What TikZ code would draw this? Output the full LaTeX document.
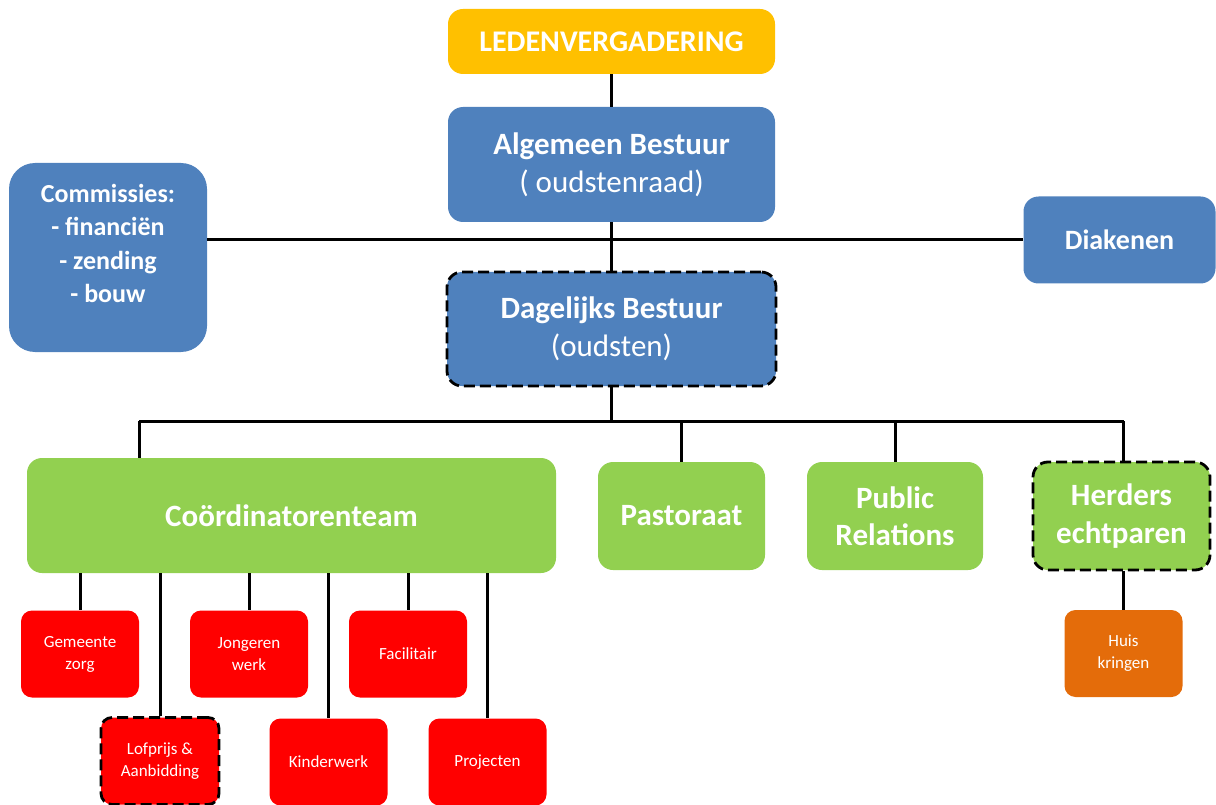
\documentclass[tikz,border=0pt]{standalone}
\usepackage{fontspec}
\setmainfont{Carlito}
\definecolor{ledyellow}{HTML}{FFC000}
\definecolor{bestblue}{HTML}{4F81BD}
\definecolor{teamgreen}{HTML}{92D050}
\definecolor{workred}{HTML}{FF0000}
\definecolor{huisorange}{HTML}{E46C0A}
\newcommand\myfs[2]{\fontsize{#1}{#2}\selectfont}
\begin{document}
\begin{tikzpicture}[x=1pt,y=-1pt,
  base/.style={rectangle, rounded corners=15pt, inner sep=0pt, align=center, text=white},
  sz/.style args={#1 and #2}{minimum width=#1, minimum height=#2},
  yel/.style={base, fill=ledyellow, font=\bfseries\myfs{30}{38}},
  blu/.style={base, fill=bestblue, font=\myfs{31}{38}},
  grn/.style={base, fill=teamgreen, font=\bfseries\myfs{31}{37.5}},
  redb/.style={base, fill=workred, rounded corners=11pt, sz=118pt and 87pt, font=\myfs{17}{22}},
  orb/.style={redb, fill=huisorange},
  dashbox/.style={draw=black, line width=2.8pt, dash pattern=on 11pt off 5pt},
  conn/.style={line width=3pt, draw=black}
]
\useasboundingbox (0,0) rectangle (1216,805);

% top levels
\node[yel, sz=327pt and 65pt] (led) at (611.5,41.5) {LEDENVERGADERING};
\node[blu, sz=327pt and 115pt] (alg) at (611.5,164.5) {\textbf{Algemeen Bestuur}\\( oudstenraad)};
\node[blu, rounded corners=26pt, sz=198pt and 189pt, font=\bfseries\myfs{26}{33.5},
      label={[text=white, align=center, font=\bfseries\myfs{26}{33.5}, yshift=14pt]center:{Commissies:\\- financiën\\- zending\\- bouw}}] (com) at (108,257.5) {};
\node[blu, sz=192pt and 87pt, font=\bfseries\myfs{28}{34}] (dia) at (1119.5,240) {Diakenen};
\node[blu, dashbox, sz=329pt and 114pt] (dag) at (611.5,329) {\textbf{Dagelijks Bestuur}\\(oudsten)};

% second level
\node[grn, sz=529pt and 115pt] (coo) at (291.5,515.5) {Coördinatorenteam};
\node[grn, sz=167pt and 108pt] (pas) at (681.5,516) {Pastoraat};
\node[grn, sz=176pt and 108pt] (pr) at (895,516) {Public\\Relations};
\node[grn, dashbox, sz=177pt and 108pt] (her) at (1121.5,516) {Herders\\echtparen};
\node[orb] (huis) at (1123.5,653.5) {Huis\\kringen};

% work groups
\node[redb] (gem) at (80,654) {Gemeente\\zorg};
\node[redb] (jon) at (249,654) {Jongeren\\werk};
\node[redb] (fac) at (408,654) {Facilitair};
\node[redb, dashbox] (lof) at (160,761) {Lofprijs \&\\Aanbidding};
\node[redb] (kin) at (328.5,762) {Kinderwerk};
\node[redb] (pro) at (487.5,762) {Projecten};

% connectors
\draw[conn] (led) -- (alg);
\draw[conn] (alg) -- (dag);
\draw[conn] (com.east |- dia.west) -- (dia.west);

\coordinate (bm) at (611.5,421);
\coordinate (b1) at (139,421);
\coordinate (b2) at (681.5,421);
\coordinate (b3) at (895,421);
\coordinate (b4) at (1123.5,421);
\draw[conn] (dag.south) -- (bm);
\draw[conn] (b1) -- (b4);
\draw[conn] (b1) -- (b1 |- coo.north);
\draw[conn] (b2) -- (pas.north);
\draw[conn] (b3) -- (pr.north);
\draw[conn] (b4) -- (b4 |- her.north);
\draw[conn] (her.south -| huis.north) -- (huis.north);

\foreach \c in {gem,jon,fac,lof,kin,pro}
  \draw[conn] (coo.south -| \c.north) -- (\c.north);
\end{tikzpicture}
\end{document}
